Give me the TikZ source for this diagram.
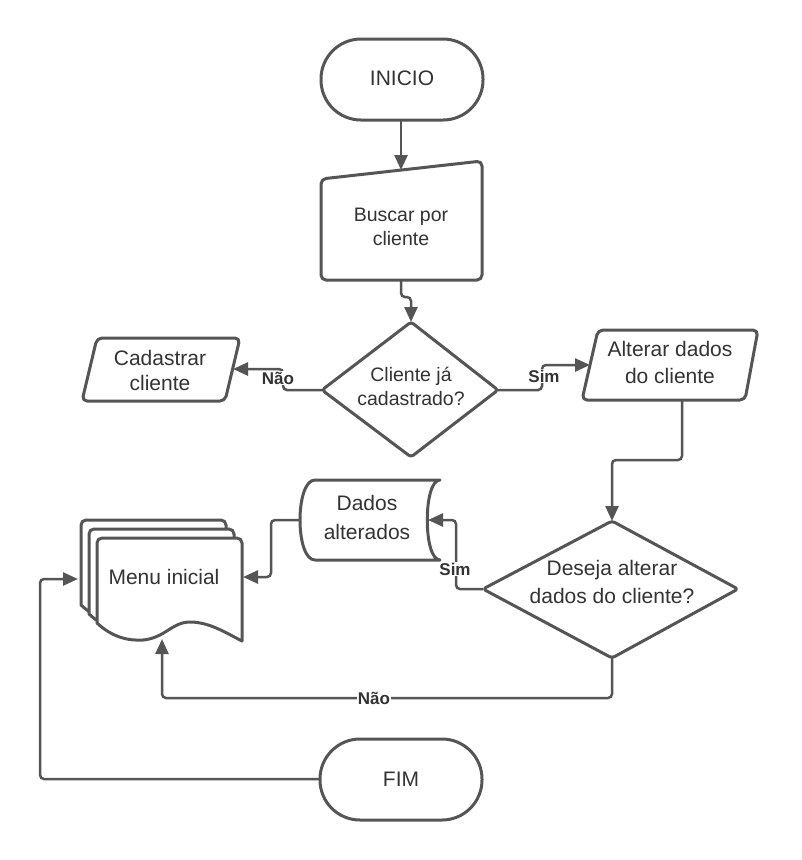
\documentclass[tikz,border=0pt]{standalone}
\usepackage{fontspec}
\setmainfont{Liberation Sans}
\usetikzlibrary{arrows.meta}
\definecolor{ln}{HTML}{555555}
\definecolor{tx}{HTML}{333333}
\tikzset{
 shp/.style={draw=ln, line width=3pt, fill=white, rounded corners=5pt, line join=round},
 conn/.style={draw=ln, line width=2.5pt, rounded corners=4pt, -{Triangle[length=15pt,width=13pt]}},
 txt/.style={text=tx, align=center, font=\fontsize{21}{27}\selectfont, inner sep=0pt},
 txts/.style={text=tx, align=center, font=\fontsize{19.5}{24}\selectfont, inner sep=0pt},
 lbl/.style={text=tx, font=\bfseries\fontsize{17}{19}\selectfont, fill=white, inner sep=1pt},
}
\begin{document}
\begin{tikzpicture}[x=1pt,y=-1pt]
\path[use as bounding box, fill=white] (0,0) rectangle (802,860);

% ---------- shapes ----------
% INICIO
\draw[shp, rounded corners=40pt] (321,39) rectangle (483,120);
\node[txt] (inicio) at (402,78) {INICIO};
% Buscar (manual input)
\draw[shp] (321,179) -- (482,161) -- (482,280) -- (321,280) -- cycle;
\node[txts] (buscar) at (401,227) {Buscar por\\cliente};
% Cliente ja cadastrado (decision)
\draw[shp, rounded corners=3pt] (411,322) -- (498,390) -- (411,457) -- (322,390) -- cycle;
\node[txts] (cliente) at (411,386) {Cliente já\\cadastrado?};
% Cadastrar cliente
\draw[shp] (97,338) -- (240,338) -- (225,401) -- (82,401) -- cycle;
\node[txt, font=\fontsize{21}{25}\selectfont] (cadastrar) at (160,370) {Cadastrar\\cliente};
% Alterar dados do cliente
\draw[shp] (598,330) -- (758,330) -- (745,400) -- (582,400) -- cycle;
\node[txt] (alterar) at (670,362) {Alterar dados\\do cliente};
% Deseja alterar (decision)
\draw[shp, rounded corners=3pt] (612,521) -- (738,589) -- (612,658) -- (483,589) -- cycle;
\node[txt, font=\fontsize{21}{28}\selectfont] (deseja) at (612,582) {Deseja alterar\\dados do cliente?};
% Dados alterados (stored data)
\draw[shp, sharp corners] (440,480) -- (315,480) .. controls (295,480) and (295,560) .. (315,560) -- (440,560) .. controls (423,560) and (423,480) .. (440,480) -- cycle;
\node[txt, font=\fontsize{21}{29}\selectfont] (dados) at (367,517) {Dados\\alterados};
% Menu inicial (multiple documents)
\foreach \dx/\dy in {-16/-18, -8/-9, 0/0}{
 \begin{scope}[shift={(\dx,\dy)}]
 \draw[shp, sharp corners] (242,641) [rounded corners=5pt] -- (242,538) -- (97,538) -- (97,570) [sharp corners] -- (97,623)
   .. controls (112,637) and (128,641) .. (143,640)
   .. controls (165,638) and (172,622) .. (190,622)
   .. controls (210,622) and (228,634) .. (242,641) -- cycle;
 \end{scope}
}
\node[txt] (menu) at (164,577) {Menu inicial};
% FIM
\draw[shp, rounded corners=40pt] (320,739) rectangle (482,820);
\node[txt] (fim) at (401,779) {FIM};

% ---------- connection points ----------
\coordinate (inicioB) at (401,120);
\coordinate (buscarT) at (401,170);
\coordinate (buscarB) at (401,280);
\coordinate (clienteT) at (411,322);
\coordinate (clienteL) at (322,390);
\coordinate (clienteR) at (498,390);
\coordinate (cadastrarR) at (233,369);
\coordinate (alterarL) at (590,365);
\coordinate (alterarB) at (682,400);
\coordinate (desejaT) at (612,521);
\coordinate (desejaL) at (483,589);
\coordinate (desejaB) at (612,658);
\coordinate (dadosR) at (428,520);
\coordinate (dadosL) at (300,520);
\coordinate (menuR) at (243,577);
\coordinate (menuL) at (78,579);
\coordinate (menuB) at (162,639);
\coordinate (fimL) at (320,779);

% ---------- connectors ----------
\draw[conn] (inicioB) -- (buscarT);
\draw[conn] (buscarB) -- (401,297) -- (411,297) -- (clienteT);
\draw[conn] (clienteL) -- (283,390) -- (283,369) -- (cadastrarR);
\draw[conn] (clienteR) -- (542,390) -- (542,365) -- (alterarL);
\draw[conn] (alterarB) -- (682,460) -- (612,460) -- (desejaT);
\draw[conn] (desejaL) -- (456,589) -- (456,520) -- (dadosR);
\draw[conn] (dadosL) -- (271,520) -- (271,577) -- (menuR);
\draw[conn] (desejaB) -- (612,698) -- (162,698) -- (menuB);
\draw[conn] (fimL) -- (40,779) -- (40,579) -- (menuL);

% ---------- labels ----------
\node[lbl] (nao1) at (278,378) {Não};
\node[lbl] (sim1) at (544,376) {Sim};
\node[lbl] (sim2) at (455,569) {Sim};
\node[lbl] (nao2) at (374,698) {Não};
\end{tikzpicture}
\end{document}
